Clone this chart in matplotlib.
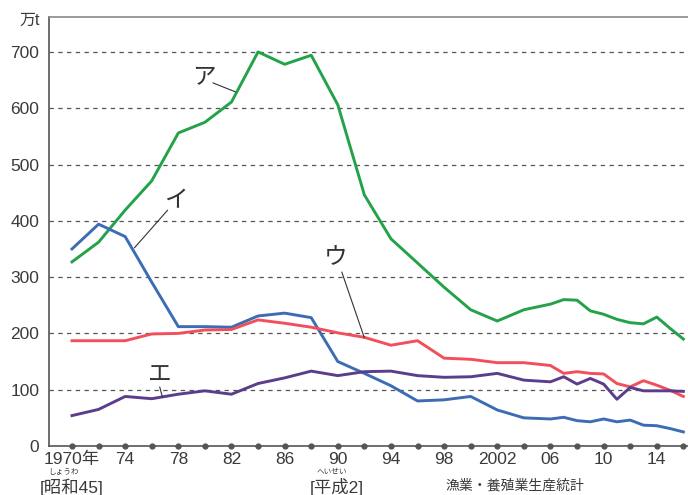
import matplotlib
matplotlib.use("Agg")
import matplotlib.pyplot as plt

plt.rcParams["font.family"] = ["Liberation Sans", "Noto Sans CJK JP", "DejaVu Sans"]

# years: every 2 years up to 2006, then annual
years = [1970, 1972, 1974, 1976, 1978, 1980, 1982, 1984, 1986, 1988, 1990,
         1992, 1994, 1996, 1998, 2000, 2002, 2004, 2006,
         2007, 2008, 2009, 2010, 2011, 2012, 2013, 2014, 2015, 2016]

series_a = [327, 362, 419, 471, 556, 575, 611, 700, 678, 694, 606,
            446, 368, 325, 282, 242, 222, 242, 252,
            260, 259, 240, 234, 225, 219, 217, 229, 209, 190]
series_i = [350, 394, 372, 291, 212, 212, 211, 231, 236, 228, 150,
            129, 107, 80, 82, 88, 64, 50, 48,
            51, 45, 43, 48, 43, 46, 37, 36, 31, 25]
series_u = [187, 187, 187, 199, 200, 206, 207, 224, 218, 211, 201,
            193, 179, 187, 156, 154, 148, 148, 143,
            129, 132, 129, 128, 111, 105, 116, 108, 99, 88]
series_e = [54, 65, 88, 84, 92, 98, 92, 111, 121, 133, 125,
            132, 133, 125, 122, 123, 129, 117, 114,
            123, 110, 120, 110, 83, 104, 98, 98, 98, 97]

tick_years = [1970, 1974, 1978, 1982, 1986, 1990, 1994, 1998, 2002, 2006, 2010, 2014]
tick_labels = ["1970年", "74", "78", "82", "86", "90", "94", "98", "2002", "06", "10", "14"]
y_ticks = [0, 100, 200, 300, 400, 500, 600, 700]
dot_years = list(range(1970, 2017, 2))

W, H = 688, 495
fig = plt.figure(figsize=(W / 100, H / 100), dpi=100)
ax = fig.add_axes([49 / W, 49 / H, 1 - 49 / W, (446 - 17) / H])

for s in ax.spines.values():
    s.set_color("#555555")
    s.set_linewidth(1.2)
ax.spines["right"].set_visible(False)
ax.spines["top"].set_color("#8a8a8a")

ax.set_xlim(1968.27, 2016.35)
ax.set_ylim(0, 762)

for y in y_ticks[1:]:
    ax.axhline(y, color="#555555", lw=0.9, ls=(0, (3.5, 3.5)), zorder=1)

lw = 2.1
ax.plot(years, series_a, color="#23a24a", lw=lw, zorder=3)
ax.plot(years, series_i, color="#3b6cb4", lw=lw, zorder=3)
ax.plot(years, series_u, color="#f24f5c", lw=lw, zorder=3)
ax.plot(years, series_e, color="#5b3d8c", lw=lw, zorder=3)

ax.plot(dot_years, [0] * len(dot_years), "o", color="#555555", ms=3.5,
        clip_on=False, zorder=4)

ax.set_xticks(tick_years)
ax.set_xticklabels(tick_labels)
ax.set_yticks(y_ticks)
ax.tick_params(length=0, labelsize=12.5, labelcolor="#3a3a3a")
ax.tick_params(axis="x", pad=4)
ax.tick_params(axis="y", pad=7)

# labels on the lines
lead = dict(arrowstyle="-", color="#333333", lw=0.8, shrinkA=0, shrinkB=0)
kw = dict(fontsize=17, color="#333333", ha="center", va="center",
          family=["Noto Sans CJK JP"])
ax.annotate("", xy=(1982.3, 629), xytext=(1980.6, 645), arrowprops=lead)
ax.text(1979.9, 654, "ア", **kw)
ax.annotate("", xy=(1974.7, 352), xytext=(1977.2, 419), arrowprops=lead)
ax.text(1977.9, 435, "イ", **kw)
ax.annotate("", xy=(1992.0, 192), xytext=(1990.3, 309), arrowprops=lead)
ax.text(1989.8, 334, "ウ", **kw)
ax.annotate("", xy=(1976.8, 87), xytext=(1976.6, 105), arrowprops=lead)
ax.text(1976.6, 127, "エ", **kw)

txt = dict(color="#3a3a3a", ha="center", va="center")
fig.text(30 / W, 1 - 20 / H, "万t", fontsize=11.5, **txt)
fig.text(72 / W, 1 - 487 / H, "[昭和45]", fontsize=12.5, **txt)
fig.text(63 / W, 1 - 472.5 / H, "しょうわ", fontsize=5.5, **txt)
fig.text(337 / W, 1 - 487 / H, "[平成2]", fontsize=12.5, **txt)
fig.text(332 / W, 1 - 472.5 / H, "へいせい", fontsize=5.5, **txt)
fig.text(445 / W, 2 / H, "漁業・養殖業生産統計", fontsize=10,
         color="#3a3a3a", ha="left", va="bottom")

fig.savefig("out.png", dpi=100)
